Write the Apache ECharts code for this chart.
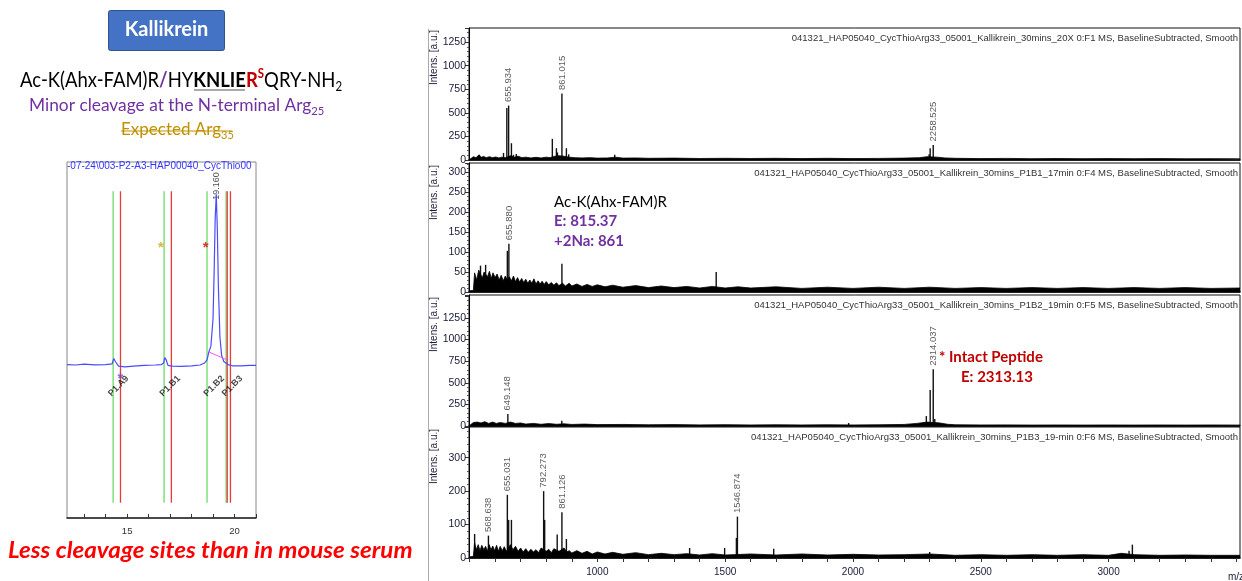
<!DOCTYPE html>
<html><head><meta charset="utf-8">
<script src="https://cdn.jsdelivr.net/npm/echarts@6/dist/echarts.min.js"></script>
<style>html,body{margin:0;padding:0;background:#fff}#c{width:1242px;height:581px}</style>
</head><body><div id="c"></div>
<script>
// ================= DATA =================
const msHeaders = [
  '041321_HAP05040_CycThioArg33_05001_Kallikrein_30mins_20X 0:F1 MS, BaselineSubtracted, Smooth',
  '041321_HAP05040_CycThioArg33_05001_Kallikrein_30mins_P1B1_17min 0:F4 MS, BaselineSubtracted, Smooth',
  '041321_HAP05040_CycThioArg33_05001_Kallikrein_30mins_P1B2_19min 0:F5 MS, BaselineSubtracted, Smooth',
  '041321_HAP05040_CycThioArg33_05001_Kallikrein_30mins_P1B3_19-min 0:F6 MS, BaselineSubtracted, Smooth'
];
const msYMax = [1400, 323, 1515, 392];
const msYInterval = [250, 50, 250, 100];
const msYLabelMax = [1250, 300, 1250, 300];
const msXMin = 498, msXMax = 3514;
const msXTicks = [500,600,700,800,900,1000,1100,1200,1300,1400,1500,1600,1700,1800,1900,2000,2100,2200,2300,2400,2500,2600,2700,2800,2900,3000,3100,3200,3300,3400,3500];
const msXLabels = [1000,1500,2000,2500,3000];

// panel 1 (20X)
const p1Peaks = [[536,50],[633,75],[646,552],[653,577],[664,178],[672,55],[683,64],[824,224],[840,125],[844,80],[861.5,705],[879,125],[888,60],[1068,55],[2298,60],[2302,125],[2314,160]];
const p1Noise = [[498,0],[505,20],[515,35],[525,25],[538,55],[545,28],[555,38],[565,25],[578,35],[590,25],[602,32],[615,22],[625,30],[640,25],[660,45],[675,30],[690,40],[705,25],[720,30],[740,22],[760,28],[780,22],[800,30],[815,25],[830,38],[850,45],[870,40],[890,30],[910,25],[940,22],[970,25],[1000,20],[1040,22],[1070,30],[1100,20],[1150,22],[1200,18],[1300,20],[1400,16],[1500,18],[1600,16],[1700,18],[1800,15],[1900,18],[2000,15],[2100,17],[2200,20],[2260,25],[2290,35],[2330,30],[2360,22],[2400,18],[2500,15],[2600,17],[2700,14],[2800,16],[2900,14],[3000,15],[3100,14],[3200,15],[3300,13],[3400,14],[3514,13]];
const p1Labels = [[653,577,'655.934'],[861.5,705,'861.015'],[2314,160,'2258.525']];

// panel 2 (P1B1 17 min)
const p2Peaks = [[543,66],[563,68],[648,103],[654,121],[861.5,71],[1465,50]];
const p2Noise = [[498,3],[515,4],[520,48],[528,30],[536,55],[543,50],[550,35],[557,50],[563,52],[570,38],[578,52],[585,34],[592,48],[600,36],[608,45],[616,30],[624,42],[632,28],[640,40],[648,30],[656,38],[664,28],[672,40],[680,26],[688,36],[696,25],[704,34],[712,24],[720,32],[728,22],[736,30],[744,22],[752,33],[760,20],[768,28],[776,20],[784,27],[792,19],[800,26],[810,18],[820,24],[830,17],[840,23],[850,16],[864,22],[875,15],[890,22],[900,15],[920,20],[940,14],[960,19],[980,14],[1000,18],[1030,13],[1060,17],[1100,12],[1150,16],[1200,11],[1250,15],[1300,11],[1350,14],[1400,10],[1450,14],[1500,10],[1550,13],[1600,10],[1700,13],[1800,9],[1900,12],[2000,9],[2100,12],[2200,9],[2300,12],[2400,9],[2500,11],[2600,9],[2700,11],[2800,9],[2900,11],[3000,9],[3100,11],[3200,9],[3300,11],[3400,9],[3514,10]];
const p2Labels = [[654,121,'655.880']];

// panel 3 (P1B2 19 min)
const p3Peaks = [[650,139],[861,60],[1983,35],[2270,25],[2280,40],[2287,115],[2302,417],[2314,656],[2320,80],[2330,40]];
const p3Noise = [[498,0],[505,5],[515,40],[530,45],[545,35],[560,50],[575,30],[590,45],[605,30],[620,40],[640,30],[660,45],[680,30],[700,35],[720,22],[750,30],[780,20],[810,28],[840,20],[870,25],[900,18],[950,22],[1000,16],[1100,18],[1200,14],[1300,16],[1400,13],[1500,15],[1600,12],[1700,14],[1800,12],[1900,14],[2000,12],[2100,14],[2200,18],[2250,30],[2290,45],[2340,35],[2370,20],[2400,14],[2500,12],[2600,13],[2700,11],[2800,12],[2900,11],[3000,12],[3100,11],[3200,12],[3300,11],[3400,12],[3514,11]];
const p3Labels = [[650,139,'649.148'],[2314,656,'2314.037']];

// panel 4 (P1B3 19- min)
const p4Peaks = [[520,72],[574,67],[648,189],[653,114],[664,114],[790,200],[794,114],[843,70],[861.5,137],[879,57],[1361,30],[1498,30],[1544,60],[1548,124],[1690,28],[2300,18],[3080,22],[3093,40]];
const p4Noise = [[498,3],[515,5],[520,45],[527,25],[534,40],[541,22],[548,38],[556,25],[563,35],[570,20],[577,40],[584,25],[591,36],[598,22],[606,38],[613,20],[620,35],[628,22],[636,34],[644,20],[660,40],[670,25],[680,35],[690,20],[700,30],[710,18],[720,28],[730,17],[740,26],[750,18],[760,25],[770,16],[780,30],[800,20],[810,26],[820,16],[830,28],[850,20],[870,30],[880,18],[890,22],[900,15],[920,22],[940,14],[960,20],[980,12],[1000,18],[1030,12],[1060,17],[1100,11],[1150,16],[1200,10],[1250,14],[1300,10],[1350,13],[1400,9],[1450,13],[1500,9],[1600,12],[1700,9],[1800,12],[1900,9],[2000,11],[2100,9],[2200,10],[2300,12],[2400,8],[2500,10],[2600,8],[2700,10],[2800,8],[2900,10],[3000,8],[3050,14],[3100,10],[3200,8],[3300,9],[3400,8],[3514,8]];
const p4Labels = [[574,67,'568.638'],[648,189,'655.031'],[790,200,'792.273'],[861.5,137,'861.126'],[1548,124,'1546.874']];

// chromatogram
const chromTime   = [12.2,12.6,13.0,13.5,14.0,14.3,14.38,14.45,14.6,14.9,15.3,15.8,16.3,16.6,16.7,16.75,16.82,16.9,17.1,17.5,18.0,18.4,18.6,18.72,18.8,18.9,19.0,19.05,19.1,19.15,19.2,19.25,19.32,19.4,19.5,19.6,19.65,19.7,19.9,20.3,20.7,21.0];
const chromSignal = [0,-0.3,0.3,-0.2,0,0.5,4,2,-1,-1.5,-1,-0.5,-0.3,0,1,4.5,3,-0.5,-1,-1.2,-0.8,-0.3,1,3,8,12,30,60,95,111,88,50,18,6,2,1,2,0,-0.8,-0.8,-0.5,-0.5];
const chromBaseline = [[18.81,8.2],[19.61,3.3]];
const fracStart = [14.35,16.72,18.72,19.61];
const fracEnd   = [14.69,17.06,19.66,19.81];
const fracNames = ['P1.A9','P1.B1','P1.B2','P1.B3'];
const fracLabelTime = [14.6,17.0,19.05,19.9];
const markerExtent = [-90,113];
const starGold = [[16.57,76]];
const starRed = [[18.66,76]];
const starPurple = [[14.69,-9]];
const rtLabels = [[19.15,111,'19.160']];
const chromXTicks = [13,14,15,16,17,18,19,20,21];
const chromXLabels = [15,20];

// ================= CHART =================
const chart = echarts.init(document.getElementById('c'), null, {renderer:'canvas'});
const msFont = 'Liberation Sans';
const msTops = [28,163,295,427], msHeights = [132,129,131,131];
const clear = 'rgba(0,0,0,0)';

const grids = [], xAxes = [], yAxes = [], series = [];
for (let i=0;i<4;i++){
  grids.push({left:469, width:771, top:msTops[i], height:msHeights[i], show:true, borderColor:'#111', borderWidth:1, backgroundColor:'transparent'});
  xAxes.push({type:'value', gridIndex:i, min:msXMin, max:msXMax,
    axisLine:{show:true, onZero:false, lineStyle:{color:'#000', width:1.6}},
    axisTick:{show:i===3, customValues:msXTicks, length:4, lineStyle:{color:'#333'}},
    axisLabel:{show:i===3, customValues:msXLabels, fontSize:10, color:'#1a1a3a', fontFamily:msFont, margin:9, formatter:v=>String(v)},
    splitLine:{show:false}});
  const lm = msYLabelMax[i];
  yAxes.push({type:'value', gridIndex:i, min:0, max:msYMax[i], interval:msYInterval[i],
    axisLine:{show:true, lineStyle:{color:'#000', width:1}},
    axisTick:{show:true, length:4, lineStyle:{color:'#333'}},
    minorTick:{show:true, splitNumber:5, length:2, lineStyle:{color:'#555'}},
    axisLabel:{fontSize:10.5, color:'#1a1a3a', fontFamily:msFont, margin:3, formatter:v=> v>lm ? '' : String(v)},
    splitLine:{show:false}});
}
// chromatogram grid
grids.push({left:67, width:189, top:162, height:356, show:true, borderColor:'#888', borderWidth:1});
xAxes.push({type:'value', gridIndex:4, min:12.2, max:21,
  axisLine:{show:true, onZero:false, lineStyle:{color:'#222', width:1.5}},
  axisTick:{show:true, inside:true, customValues:chromXTicks, length:4, lineStyle:{color:'#333'}},
  axisLabel:{customValues:chromXLabels, fontSize:9.5, color:'#333', fontFamily:msFont, margin:8},
  splitLine:{show:false}});
yAxes.push({type:'value', gridIndex:4, min:-100, max:132, show:false, splitLine:{show:false}});

function stick(gi, data, color, w){
  return {type:'custom', xAxisIndex:gi, yAxisIndex:gi, data:data, silent:true, clip:true,
    encode:{x:0,y:1},
    renderItem:function(params, api){
      const x=api.value(0), y=api.value(1);
      const a=api.coord([x,0]), b=api.coord([x,y]);
      return {type:'line', shape:{x1:a[0],y1:a[1],x2:b[0],y2:b[1]}, style:{stroke:color, lineWidth:w}};
    }};
}
function noise(gi, data){
  return {type:'line', xAxisIndex:gi, yAxisIndex:gi, data:data, symbol:'none', silent:true,
    lineStyle:{color:'#000', width:0.8}, areaStyle:{color:'#000', opacity:1}};
}
function peakLabels(gi, data){
  return {type:'scatter', xAxisIndex:gi, yAxisIndex:gi, data:data, symbolSize:1, silent:true,
    itemStyle:{color:clear},
    label:{show:true, position:'top', distance:3, rotate:90, align:'left', verticalAlign:'middle',
      formatter:function(p){return p.value[2];}, fontSize:9.5, color:'#333', fontFamily:msFont}};
}
const peakSets=[p1Peaks,p2Peaks,p3Peaks,p4Peaks], noiseSets=[p1Noise,p2Noise,p3Noise,p4Noise], labelSets=[p1Labels,p2Labels,p3Labels,p4Labels];
for (let i=0;i<4;i++){
  series.push(noise(i, noiseSets[i]));
  series.push(stick(i, peakSets[i], '#111', 1.4));
  series.push(peakLabels(i, labelSets[i]));
}
// chromatogram series
function vmarks(times, color, w){
  return {type:'custom', xAxisIndex:4, yAxisIndex:4, data:times.map(t=>[t, markerExtent[0], markerExtent[1]]), silent:true,
    encode:{x:0,y:[1,2]},
    renderItem:function(params, api){
      const a=api.coord([api.value(0), api.value(1)]), b=api.coord([api.value(0), api.value(2)]);
      return {type:'line', shape:{x1:a[0],y1:a[1],x2:b[0],y2:b[1]}, style:{stroke:color, lineWidth:w}};
    }};
}
series.push(vmarks(fracStart, '#7fe07f', 1.5));
series.push(vmarks(fracEnd, '#e83a3a', 1.3));
series.push({type:'line', xAxisIndex:4, yAxisIndex:4, data:chromTime.map((t,k)=>[t, chromSignal[k]]), symbol:'none', silent:true,
  lineStyle:{color:'#4a4aff', width:1.2}});
series.push({type:'line', xAxisIndex:4, yAxisIndex:4, data:chromBaseline, symbol:'none', silent:true,
  lineStyle:{color:'#ff55ff', width:1}});
series.push({type:'scatter', xAxisIndex:4, yAxisIndex:4, data:fracLabelTime.map((t,k)=>[t,-14,fracNames[k]]), symbolSize:1, silent:true,
  itemStyle:{color:clear},
  label:{show:true, position:'inside', rotate:45, align:'center', verticalAlign:'middle', formatter:p=>p.value[2],
    fontSize:9, color:'#111', fontFamily:msFont, fontWeight:'bold'}});
function stars(data, color){
  return {type:'scatter', xAxisIndex:4, yAxisIndex:4, data:data, symbolSize:1, silent:true, itemStyle:{color:clear},
    label:{show:true, position:'inside', formatter:'*', fontSize:15, fontWeight:'bold', color:color, fontFamily:msFont}};
}
series.push(stars(starGold, '#d4a017'));
series.push(stars(starRed, '#e00000'));
series.push(stars(starPurple, '#8040c0'));
series.push({type:'scatter', xAxisIndex:4, yAxisIndex:4, data:rtLabels, symbolSize:1, silent:true, itemStyle:{color:clear},
  label:{show:true, position:'top', distance:-6, rotate:90, align:'left', verticalAlign:'middle', formatter:p=>p.value[2],
    fontSize:9, color:'#222', fontFamily:msFont}});

// ================= TEXT / GRAPHICS =================
const pptFont = 'Lato';
const graphic = [];
// title box
graphic.push({type:'rect', shape:{x:108.5,y:10.5,width:116,height:40,r:2}, style:{fill:'#4472C4', stroke:'#2F528F', lineWidth:1}});
graphic.push({type:'text', x:166.5, y:30, style:{text:'Kallikrein', fill:'#fff', font:'bold 20px '+pptFont, align:'center', verticalAlign:'middle', textAlign:'center', textVerticalAlign:'middle'}});
// peptide line (condensed horizontally to match the narrow original face)
graphic.push({type:'text', x:20, y:67, scaleX:0.88, style:{
  text:'{n|Ac-K(Ahx-FAM)R}{p|/}{n|HY}{b|KNLIE}{r|R}{s|S}{n|QRY-NH}{sub|2}',
  align:'left', verticalAlign:'top', textAlign:'left', textVerticalAlign:'top',
  rich:{
    n:{fontFamily:pptFont, fontSize:21, fill:'#000', lineHeight:26},
    p:{fontFamily:pptFont, fontSize:21, fontWeight:'bold', fill:'#7030A0', lineHeight:26},
    b:{fontFamily:pptFont, fontSize:21, fontWeight:'bold', fill:'#000', lineHeight:26},
    r:{fontFamily:pptFont, fontSize:21, fontWeight:'bold', fill:'#C00000', lineHeight:26},
    s:{fontFamily:pptFont, fontSize:13, fontWeight:'bold', fill:'#C00000', lineHeight:16, verticalAlign:'top'},
    sub:{fontFamily:pptFont, fontSize:13, fill:'#000', lineHeight:12, verticalAlign:'bottom'}
  }}});
graphic.push({type:'line', shape:{x1:194,y1:90,x2:245,y2:90}, style:{stroke:'#555', lineWidth:1.2}});
// minor cleavage
graphic.push({type:'text', x:29, y:95, scaleX:1.02, style:{
  text:'{a|Minor cleavage at the N-terminal Arg}{s|25}',
  align:'left', verticalAlign:'top', textAlign:'left', textVerticalAlign:'top',
  rich:{a:{fontFamily:pptFont, fontSize:17, fill:'#7030A0', lineHeight:22},
        s:{fontFamily:pptFont, fontSize:11, fill:'#7030A0', lineHeight:10, verticalAlign:'bottom'}}}});
graphic.push({type:'text', x:121, y:119, style:{
  text:'{a|Expected Arg}{s|35}',
  align:'left', verticalAlign:'top', textAlign:'left', textVerticalAlign:'top',
  rich:{a:{fontFamily:pptFont, fontSize:17, fill:'#BF9000', lineHeight:22},
        s:{fontFamily:pptFont, fontSize:11, fill:'#BF9000', lineHeight:10, verticalAlign:'bottom'}}}});
graphic.push({type:'line', shape:{x1:121,y1:131,x2:232,y2:131}, style:{stroke:'#BF9000', lineWidth:1.2}});
// bottom red
graphic.push({type:'text', x:8, y:551, scaleX:1.1, style:{text:'Less cleavage sites than in mouse serum', fill:'#FF0000',
  font:'italic bold 22px '+pptFont, align:'left', verticalAlign:'middle', textAlign:'left', textVerticalAlign:'middle'}});
// chromatogram header
graphic.push({type:'text', x:67, y:166, style:{text:'-07-24\\003-P2-A3-HAP00040_CycThio00001_Kallikrein', fill:'#3535ff',
  font:'10px '+msFont, align:'left', verticalAlign:'middle', textAlign:'left', textVerticalAlign:'middle', width:188, overflow:'truncate', ellipsis:''}});
// MS image left border
graphic.push({type:'line', shape:{x1:428.5,y1:29,x2:428.5,y2:581}, style:{stroke:'#aaa', lineWidth:1}});
// MS headers & y names
for (let i=0;i<4;i++){
  graphic.push({type:'text', x:1238, y:msTops[i]+10, style:{text:msHeaders[i], fill:'#333', font:'9.5px '+msFont,
    align:'right', verticalAlign:'middle', textAlign:'right', textVerticalAlign:'middle'}});
  graphic.push({type:'text', x:434, y:msTops[i]+2, rotation:Math.PI/2, style:{text:'Intens. [a.u.]', fill:'#1a1a3a', font:'10px '+msFont,
    align:'right', verticalAlign:'middle', textAlign:'right', textVerticalAlign:'middle'}});
}
graphic.push({type:'text', x:1228, y:577, style:{text:'m/z', fill:'#1a1a3a', font:'10px '+msFont, align:'left', verticalAlign:'middle', textAlign:'left', textVerticalAlign:'middle'}});
// annotations
graphic.push({type:'text', x:554, y:192, style:{
  text:'{k|Ac-K(Ahx-FAM)R}\n{e|E: 815.37}\n{e|+2Na: 861}', align:'left', verticalAlign:'top', textAlign:'left', textVerticalAlign:'top',
  rich:{k:{fontFamily:pptFont, fontSize:15, fill:'#000', lineHeight:19.5},
        e:{fontFamily:pptFont, fontSize:15, fontWeight:'bold', fill:'#7030A0', lineHeight:19.5}}}});
graphic.push({type:'text', x:939, y:347, style:{
  text:'{a|* Intact Peptide}', align:'left', verticalAlign:'top', textAlign:'left', textVerticalAlign:'top',
  rich:{a:{fontFamily:pptFont, fontSize:15, fontWeight:'bold', fill:'#C00000', lineHeight:19.5}}}});
graphic.push({type:'text', x:961, y:367, style:{
  text:'{a|E: 2313.13}', align:'left', verticalAlign:'top', textAlign:'left', textVerticalAlign:'top',
  rich:{a:{fontFamily:pptFont, fontSize:15, fontWeight:'bold', fill:'#C00000', lineHeight:19.5}}}});

chart.setOption({animation:false, backgroundColor:'#fff', grid:grids, xAxis:xAxes, yAxis:yAxes, series:series, graphic:graphic});
</script></body></html>
